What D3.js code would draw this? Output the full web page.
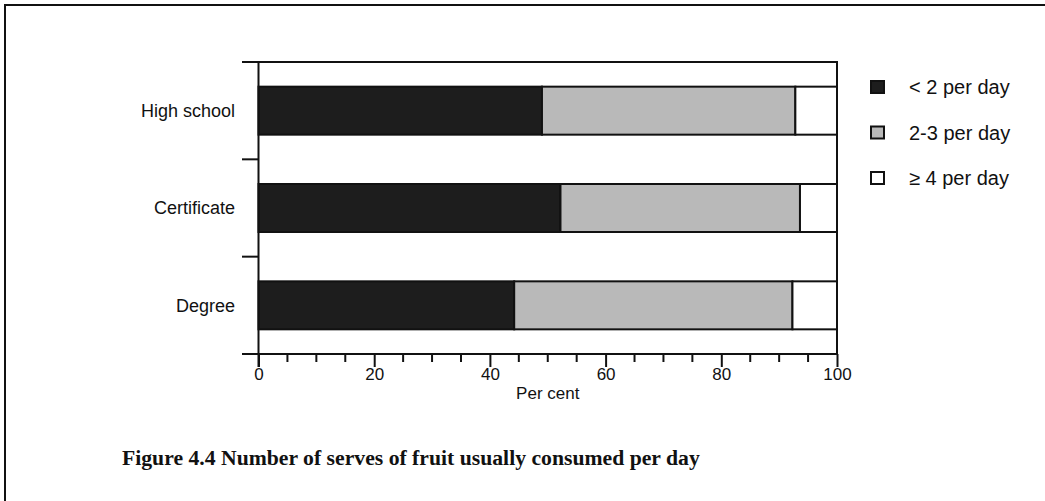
<!DOCTYPE html>
<html>
<head>
<meta charset="utf-8">
<script src="https://d3js.org/d3.v7.min.js"></script>
<style>
  body { margin: 0; background: #fff; }
  text { font-family: "Liberation Sans", Arial, sans-serif; fill: #111; }
</style>
</head>
<body>
<script>
// share of people by number of fruit serves per day, by education
var categories = ["High school", "Certificate", "Degree"];
var lessThan2 = [49.0, 52.2, 44.2];
var twoToThree = [43.8, 41.4, 48.1];
var fourPlus = [7.2, 6.4, 7.7];
var seriesNames = ["< 2 per day", "2-3 per day", "\u2265 4 per day"];
var seriesFill = ["#1d1d1d", "#b9b9b9", "#ffffff"];
var xTicks = [0, 20, 40, 60, 80, 100];

var width = 1045, height = 501;

var svg = d3.select("body")
    .append("svg")
    .attr("width", width)
    .attr("height", height);

// page frame (only left and top edges show in the scan)
svg.append("path")
    .attr("d", "M5,501 V5 H1045")
    .attr("fill", "none")
    .attr("stroke", "#111")
    .attr("stroke-width", 2);

var xScale = d3.scaleLinear()
    .domain([0, 100])
    .range([258.5, 837]);

var yScale = d3.scaleBand()
    .domain(categories)
    .range([62, 354]);

var barH = 48;

// stack the three series
var rows = categories.map(function(c, i) {
    return {cat: c, vals: [lessThan2[i], twoToThree[i], fourPlus[i]]};
});
var segs = [];
rows.forEach(function(r) {
    var acc = 0;
    r.vals.forEach(function(v, k) {
        segs.push({cat: r.cat, x0: acc, x1: acc + v, k: k});
        acc += v;
    });
});

svg.selectAll("rect.seg")
    .data(segs)
    .enter()
    .append("rect")
    .attr("class", "seg")
    .attr("x", function(d) { return xScale(d.x0); })
    .attr("width", function(d) { return xScale(d.x1) - xScale(d.x0); })
    .attr("y", function(d) { return yScale(d.cat) + yScale.bandwidth() / 2 - barH / 2; })
    .attr("height", barH)
    .attr("fill", function(d) { return seriesFill[d.k]; })
    .attr("stroke", "#111")
    .attr("stroke-width", 2);

// plot box: top and right lines
svg.append("path")
    .attr("d", "M242," + yScale.range()[0] + " H" + xScale(100) + " V" + yScale.range()[1])
    .attr("fill", "none")
    .attr("stroke", "#111")
    .attr("stroke-width", 2);

// x axis
var xAxis = d3.axisBottom(xScale)
    .tickValues(xTicks)
    .tickSize(13)
    .tickPadding(1)
    .tickFormat(d3.format("d"));

var gx = svg.append("g")
    .attr("class", "x axis")
    .attr("transform", "translate(0," + yScale.range()[1] + ")")
    .call(xAxis);
gx.select(".domain").remove();
gx.selectAll("line").attr("stroke", "#111").attr("stroke-width", 2);
gx.selectAll("text").style("font-size", "17px").attr("fill", "#111");

// minor ticks every 5
gx.selectAll("line.minor")
    .data(d3.range(5, 100, 5).filter(function(v) { return v % 20 !== 0; }))
    .enter()
    .append("line")
    .attr("class", "minor")
    .attr("x1", function(d) { return xScale(d); })
    .attr("x2", function(d) { return xScale(d); })
    .attr("y1", 0)
    .attr("y2", 8)
    .attr("stroke", "#111")
    .attr("stroke-width", 2);

gx.append("line")
    .attr("x1", 242)
    .attr("x2", xScale(100))
    .attr("y1", 0)
    .attr("y2", 0)
    .attr("stroke", "#111")
    .attr("stroke-width", 2);

// y axis: line plus ticks at band boundaries
svg.append("line")
    .attr("x1", xScale(0))
    .attr("x2", xScale(0))
    .attr("y1", yScale.range()[0])
    .attr("y2", yScale.range()[1] + 13)
    .attr("stroke", "#111")
    .attr("stroke-width", 2);

svg.selectAll("line.ytick")
    .data(categories.slice(1))
    .enter()
    .append("line")
    .attr("class", "ytick")
    .attr("x1", 242)
    .attr("x2", xScale(0))
    .attr("y1", function(d) { return yScale(d); })
    .attr("y2", function(d) { return yScale(d); })
    .attr("stroke", "#111")
    .attr("stroke-width", 2);

svg.selectAll("text.cat")
    .data(categories)
    .enter()
    .append("text")
    .attr("class", "cat")
    .attr("x", 235)
    .attr("y", function(d) { return yScale(d) + yScale.bandwidth() / 2; })
    .attr("dy", "0.35em")
    .attr("text-anchor", "end")
    .style("font-size", "18px")
    .text(function(d) { return d; });

svg.append("text")
    .attr("x", xScale(50))
    .attr("y", 399)
    .attr("text-anchor", "middle")
    .style("font-size", "17px")
    .text("Per cent");

// legend
var legend = svg.selectAll("g.legend")
    .data(seriesNames)
    .enter()
    .append("g")
    .attr("class", "legend")
    .attr("transform", function(d, i) { return "translate(871," + (87 + i * 45.5) + ")"; });

legend.append("rect")
    .attr("x", 0)
    .attr("y", -6)
    .attr("width", 13)
    .attr("height", 12)
    .attr("fill", function(d, i) { return seriesFill[i]; })
    .attr("stroke", "#111")
    .attr("stroke-width", 2);

legend.append("text")
    .attr("x", 38)
    .attr("y", 0)
    .attr("dy", "0.35em")
    .style("font-size", "20px")
    .text(function(d) { return d; });

// caption
svg.append("text")
    .attr("x", 122)
    .attr("y", 465)
    .style("font-family", "'Liberation Serif', 'Times New Roman', serif")
    .style("font-weight", "bold")
    .style("font-size", "21.7px")
    .text("Figure 4.4 Number of serves of fruit usually consumed per day");
</script>
</body>
</html>
